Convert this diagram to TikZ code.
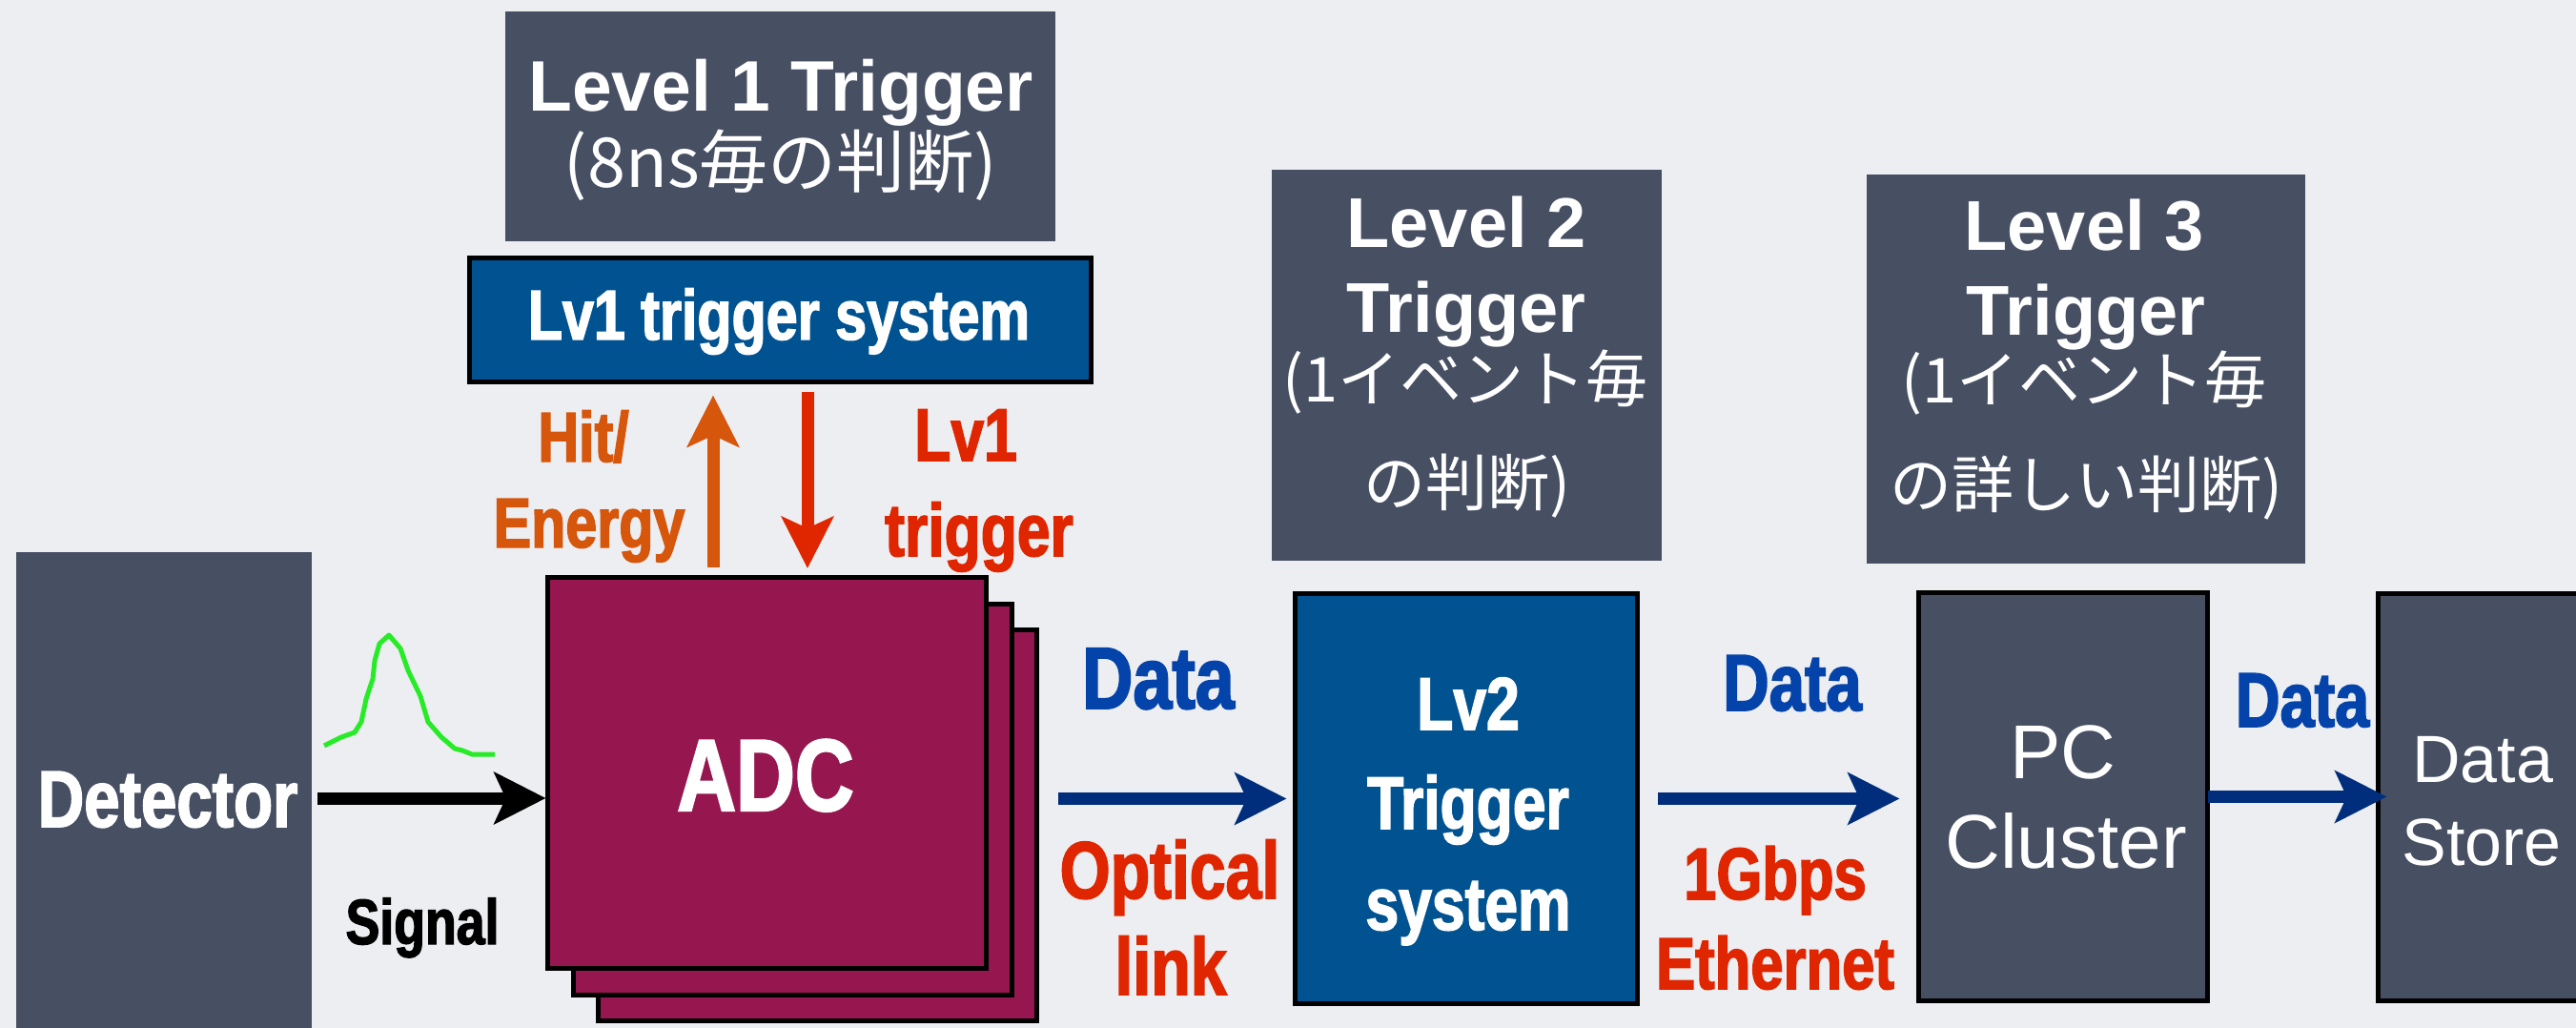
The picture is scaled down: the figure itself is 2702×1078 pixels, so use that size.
\documentclass[tikz,border=0pt]{standalone}
\usepackage{fontspec}
\setmainfont{Liberation Sans}
\newfontfamily\condf{Liberation Sans}[FakeStretch=0.8, BoldFeatures={FakeBold=2}]
\newfontfamily\jpf{Noto Sans CJK JP}
\usetikzlibrary{arrows.meta}
\definecolor{bgc}{RGB}{237,238,241}
\definecolor{slate}{RGB}{71,79,99}
\definecolor{crimson}{RGB}{150,23,80}
\definecolor{boxblue}{RGB}{0,82,145}
\definecolor{datablue}{RGB}{4,67,170}
\definecolor{navy}{RGB}{0,46,125}
\definecolor{redt}{RGB}{224,38,0}
\definecolor{oranget}{RGB}{214,86,12}
\definecolor{pulse}{RGB}{40,235,40}
\tikzset{
  box/.style={rectangle, inner sep=0pt, outer sep=0pt},
  slatebox/.style={box, fill=slate},
  bordered/.style={box, draw=black, line width=5pt},
  txt/.style={anchor=base, inner sep=0pt, outer sep=0pt},
  cb/.style={txt, font=\condf\bfseries\fontsize{#1}{#1}\selectfont},
  hb/.style={txt, font=\bfseries\fontsize{#1}{#1}\selectfont},
  hr/.style={txt, font=\fontsize{#1}{#1}\selectfont},
  jp/.style={txt, font=\jpf\fontsize{#1}{#1}\selectfont},
  fat/.style={line width=13pt, -{Stealth[length=54pt,width=54pt,inset=12pt]}}
}
\begin{document}
\begin{tikzpicture}[x=1pt,y=-1pt]
\useasboundingbox (0,0) rectangle (2702,1078);
\clip (0,0) rectangle (2702,1078);
\fill[bgc] (0,0) rectangle (2702,1078);

% boxes
\node[slatebox, minimum width=310pt, minimum height=511pt] (det) at (172,834.5) {};
\node[slatebox, minimum width=577pt, minimum height=241pt] (lev1) at (818.5,132.5) {};
\node[bordered, fill=boxblue, minimum width=652pt, minimum height=130pt] (lv1sys) at (818.5,335.5) {};
\node[bordered, fill=crimson, minimum width=460pt, minimum height=410pt] (adc3) at (857.5,865) {};
\node[bordered, fill=crimson, minimum width=460pt, minimum height=410pt] (adc2) at (831.5,838) {};
\node[bordered, fill=crimson, minimum width=460pt, minimum height=410pt] (adc1) at (804.5,810) {};
\node[slatebox, minimum width=409pt, minimum height=410pt] (lev2) at (1538.5,383) {};
\node[bordered, fill=boxblue, minimum width=359pt, minimum height=430pt] (lv2) at (1538,837.5) {};
\node[slatebox, minimum width=460pt, minimum height=408pt] (lev3) at (2188,387) {};
\node[bordered, fill=slate, minimum width=303pt, minimum height=428pt] (pc) at (2164,835.5) {};
\node[bordered, fill=slate, minimum width=243pt, minimum height=427pt] (store) at (2616,836) {};

% texts
\node[cb=84, white] (detT) at (176,867) {Detector};
\node[hb=75, white] (lev1a) at (819,117) {Level 1 Trigger};
\node[jp=72, white] (lev1b) at (819,197) {(8ns毎の判断)};
\node[cb=74, white] (lv1sysT) at (817,356) {Lv1 trigger system};
\node[cb=74, oranget] (hitT) at (612,484) {Hit/};
\node[cb=74, oranget] (energyT) at (618,574) {Energy};
\node[cb=78, redt] (lv1T) at (1013,483) {Lv1};
\node[cb=78, redt] (trigT) at (1027,583) {trigger};
\node[cb=107, white] (adcT) at (803,850) {ADC};
\node[cb=67, black] (sigT) at (443,990) {Signal};
\node[cb=92, datablue] (data1) at (1215,743) {Data};
\node[cb=85, redt] (optT) at (1227,942) {Optical};
\node[cb=85, redt] (linkT) at (1228,1043) {link};
\node[hb=74, white] (lev2a) at (1538,259) {Level 2};
\node[hb=74, white] (lev2b) at (1538,348) {Trigger};
\node[jp=65, white] (lev2c) at (1537,421) {(1イベント毎};
\node[jp=65, white] (lev2d) at (1539,530) {の判断)};
\node[cb=78, white] (lv2a) at (1540,765) {Lv2};
\node[cb=78, white] (lv2b) at (1540,869) {Trigger};
\node[cb=78, white] (lv2c) at (1540,975) {system};
\node[cb=84, datablue] (data2) at (1880,745) {Data};
\node[cb=77, redt] (gbT) at (1862,943) {1Gbps};
\node[cb=77, redt] (ethT) at (1862,1037) {Ethernet};
\node[hr=80, white] (pca) at (2164,816) {PC};
\node[hr=80, white] (pcb) at (2167,910) {Cluster};
\node[hb=74, white] (lev3a) at (2186,262) {Level 3};
\node[hb=74, white] (lev3b) at (2188,351) {Trigger};
\node[jp=65, white] (lev3c) at (2186,422) {(1イベント毎};
\node[jp=65, white] (lev3d) at (2188,532) {の詳しい判断)};
\node[cb=81, datablue] (data3) at (2415,762) {Data};
\node[hr=70, white] (sta) at (2604,820) {Data};
\node[hr=70, white] (stb) at (2603,907) {Store};

% connectors
\coordinate (sigy) at (0,837);
\coordinate (ox) at (748,0);
\coordinate (rx) at (847,0);
\draw[fat, black, shorten <=6pt, shorten >=2pt] (det.east |- sigy) -- (adc1.west |- sigy);
\draw[fat, oranget, shorten <=10pt, shorten >=14pt] (adc1.north -| ox) -- (lv1sys.south -| ox);
\draw[fat, redt, shorten <=10pt, shorten >=9pt] (lv1sys.south -| rx) -- (adc1.north -| rx);
\draw[fat, navy, shorten <=22pt, shorten >=9pt] (adc3.east |- lv2.west) -- (lv2.west);
\draw[fat, navy, shorten <=21pt, shorten >=20pt] (lv2.east) -- (pc.west |- lv2.east);
\draw[fat, navy, shorten >=-9pt] (pc.east) -- (store.west |- pc.east);

% signal pulse
\draw[pulse, line width=5pt, line join=round] plot coordinates {(340,782) (358,773) (372,768) (379,757) (384,733) (391,712) (393,693) (398,675) (408,666) (420,680) (428,703) (441,730) (449,757) (463,773) (477,785) (485,787) (495,791) (519,791)};
\end{tikzpicture}
\end{document}
